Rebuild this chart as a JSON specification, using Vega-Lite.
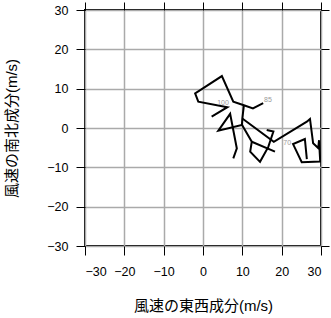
{
  "$schema": "https://vega.github.io/schema/vega-lite/v6.json",
  "autosize": "none",
  "padding": {"left": 85, "top": 10, "right": 10, "bottom": 72},
  "width": 236,
  "height": 236,
  "config": {
    "view": {"stroke": "black", "strokeWidth": 2},
    "font": "Liberation Sans, Noto Sans CJK JP",
    "axis": {
      "domain": false,
      "tickColor": "black",
      "tickSize": 9,
      "tickWidth": 1,
      "labelFont": "Liberation Sans",
      "labelFontSize": 12.5,
      "labelColor": "black",
      "titleFont": "Liberation Sans, Noto Sans CJK JP",
      "titleFontSize": 15,
      "titleFontWeight": "normal",
      "titleColor": "black",
      "gridColor": "#aaaaaa",
      "gridWidth": 1.5,
      "gridOpacity": 1
    }
  },
  "datasets": {
    "path": [
      {"seg": "A", "i": 1, "u": 2.2, "v": 2.9},
      {"seg": "A", "i": 2, "u": 6.2, "v": 5.3},
      {"seg": "A", "i": 3, "u": -1.2, "v": 6.7},
      {"seg": "A", "i": 4, "u": -2.0, "v": 8.8},
      {"seg": "A", "i": 5, "u": 4.8, "v": 13.2},
      {"seg": "A", "i": 6, "u": 7.7, "v": 6.7},
      {"seg": "A", "i": 7, "u": 10.4, "v": 5.8},
      {"seg": "A", "i": 8, "u": 12.7, "v": 5.0},
      {"seg": "A", "i": 9, "u": 15.3, "v": 6.3},
      {"seg": "B", "i": 1, "u": 7.7, "v": -7.7},
      {"seg": "B", "i": 2, "u": 8.6, "v": -5.2},
      {"seg": "B", "i": 3, "u": 6.9, "v": 3.6},
      {"seg": "B", "i": 4, "u": 3.9, "v": -0.7},
      {"seg": "B", "i": 5, "u": 9.9, "v": 0.8},
      {"seg": "B", "i": 6, "u": 10.0, "v": 2.4},
      {"seg": "B", "i": 7, "u": 10.4, "v": 5.8},
      {"seg": "C", "i": 1, "u": 10.0, "v": 2.4},
      {"seg": "C", "i": 2, "u": 18.0, "v": -3.5},
      {"seg": "C", "i": 3, "u": 26.4, "v": 1.6},
      {"seg": "C", "i": 4, "u": 27.2, "v": 2.3},
      {"seg": "C", "i": 5, "u": 28.0, "v": -3.9},
      {"seg": "C", "i": 6, "u": 29.3, "v": -5.1},
      {"seg": "C", "i": 7, "u": 29.5, "v": -3.1},
      {"seg": "C", "i": 8, "u": 29.8, "v": -8.5},
      {"seg": "C", "i": 9, "u": 25.1, "v": -8.7},
      {"seg": "C", "i": 10, "u": 22.9, "v": -4.1},
      {"seg": "C", "i": 11, "u": 25.9, "v": -2.8},
      {"seg": "C", "i": 12, "u": 26.4, "v": -7.9},
      {"seg": "D", "i": 1, "u": 9.9, "v": 0.8},
      {"seg": "D", "i": 2, "u": 12.4, "v": -3.5},
      {"seg": "D", "i": 3, "u": 12.0, "v": -6.0},
      {"seg": "D", "i": 4, "u": 14.5, "v": -8.6},
      {"seg": "D", "i": 5, "u": 16.6, "v": -4.8},
      {"seg": "D", "i": 6, "u": 17.9, "v": -0.9},
      {"seg": "D", "i": 7, "u": 16.2, "v": -0.5},
      {"seg": "E", "i": 1, "u": 12.4, "v": -3.5},
      {"seg": "E", "i": 2, "u": 18.3, "v": -6.0}
    ],
    "labels": [
      {"u": 5.1, "v": 6.4, "t": "100"},
      {"u": 16.5, "v": 7.2, "t": "85"},
      {"u": 21.4, "v": -3.9, "t": "70"}
    ]
  },
  "layer": [
    {
      "data": {"name": "path"},
      "mark": {"type": "line", "color": "black", "strokeWidth": 2, "strokeJoin": "miter", "clip": true},
      "encoding": {
        "x": {"field": "u", "type": "quantitative",
              "scale": {"domain": [-30, 30], "nice": false},
              "axis": {"values": [-30, -20, -10, 0, 10, 20, 30], "title": "風速の東西成分(m/s)", "labelPadding": 10, "titlePadding": 21}},
        "y": {"field": "v", "type": "quantitative",
              "scale": {"domain": [-30, 30], "nice": false},
              "axis": {"values": [-30, -20, -10, 0, 10, 20, 30], "title": "風速の南北成分(m/s)", "labelPadding": 8, "titlePadding": 27}},
        "detail": {"field": "seg"},
        "order": {"field": "i", "type": "quantitative"}
      }
    },
    {
      "data": {"name": "labels"},
      "mark": {"type": "text", "fontSize": 7, "color": "#9a9a9a", "font": "Liberation Sans"},
      "encoding": {
        "x": {"field": "u", "type": "quantitative",
              "scale": {"domain": [-30, 30], "nice": false},
              "axis": {"orient": "top", "values": [-30, -20, -10, 0, 10, 20, 30], "labels": false, "grid": false, "title": null, "tickSize": 8}},
        "y": {"field": "v", "type": "quantitative",
              "scale": {"domain": [-30, 30], "nice": false},
              "axis": {"orient": "right", "values": [-30, -20, -10, 0, 10, 20, 30], "labels": false, "grid": false, "title": null, "tickSize": 8}},
        "text": {"field": "t"}
      }
    }
  ],
  "resolve": {"axis": {"x": "independent", "y": "independent"}}
}
